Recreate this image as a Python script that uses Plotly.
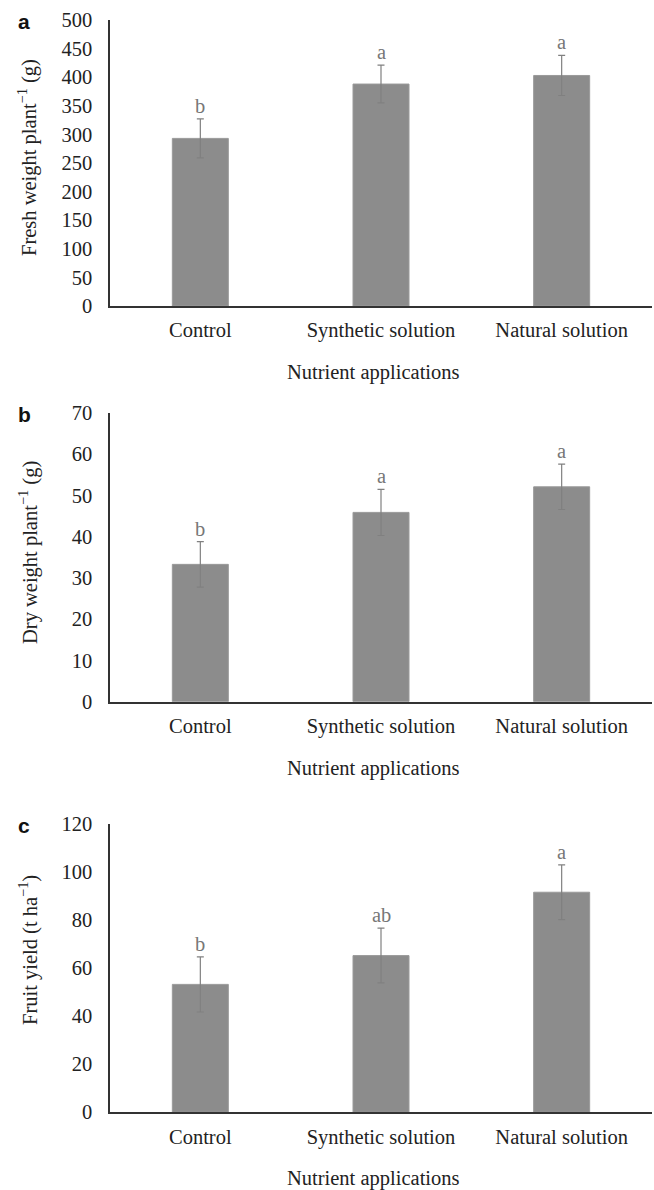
import plotly.graph_objects as go

categories = ["Control", "Synthetic solution", "Natural solution"]

fresh = [293, 388, 403]
fresh_err = [34, 33, 35]
fresh_letters = ["b", "a", "a"]

dry = [33.3, 45.9, 52.1]
dry_err = [5.5, 5.6, 5.5]
dry_letters = ["b", "a", "a"]

fruit = [53.3, 65.3, 91.7]
fruit_err = [11.5, 11.4, 11.4]
fruit_letters = ["b", "ab", "a"]

panels = [
    dict(vals=fresh, err=fresh_err, letters=fresh_letters, rng=[0, 500], dtick=50,
         ytitle="Fresh weight plant<sup>\u22121</sup> (g)", label="a",
         top=20, bottom=306, ytc=158, xtitle_y=372),
    dict(vals=dry, err=dry_err, letters=dry_letters, rng=[0, 70], dtick=10,
         ytitle="Dry weight plant<sup>\u22121</sup> (g)", label="b",
         top=413, bottom=701.7, ytc=553, xtitle_y=768),
    dict(vals=fruit, err=fruit_err, letters=fruit_letters, rng=[0, 120], dtick=20,
         ytitle="Fruit yield (t ha<sup>\u22121</sup>)", label="c",
         top=824.3, bottom=1112.3, ytc=950, xtitle_y=1178),
]

W, H = 654, 1190
SERIF = "Liberation Serif, Times New Roman, serif"
FS = 20.5
fig = go.Figure()
annotations = []
layout = {}
for i, p in enumerate(panels):
    n = "" if i == 0 else str(i + 1)
    xa, ya = "x" + n, "y" + n
    fig.add_trace(go.Bar(
        x=categories, y=p["vals"], xaxis=xa, yaxis=ya, width=0.31,
        marker=dict(color="#8c8c8c", line=dict(color="#9a9a9a", width=1)),
        error_y=dict(type="data", array=p["err"], color="#808080", thickness=1.2, width=3.5),
        showlegend=False, hoverinfo="skip",
    ))
    layout["xaxis" + n] = dict(
        domain=[110 / W, 652 / W], anchor=ya, range=[-0.5, 2.5], showline=True,
        linecolor="#333333", linewidth=1.5, showgrid=False, ticks="", ticklabelstandoff=5,
        tickfont=dict(family=SERIF, size=FS, color="#222222"), zeroline=False,
        automargin=False,
    )
    layout["yaxis" + n] = dict(
        domain=[1 - p["bottom"] / H, 1 - p["top"] / H], anchor=xa, range=p["rng"],
        dtick=p["dtick"], showline=True, linecolor="#333333", linewidth=1.5,
        showgrid=False, ticks="", ticklabelstandoff=12, zeroline=False,
        tickfont=dict(family=SERIF, size=FS, color="#222222"), automargin=False,
    )
    for c, v, e, l in zip(categories, p["vals"], p["err"], p["letters"]):
        annotations.append(dict(
            x=c, y=v + e, xref=xa, yref=ya, text=l, showarrow=False,
            yanchor="bottom", yshift=0,
            font=dict(family=SERIF, size=FS, color="#777777"),
        ))
    annotations.append(dict(
        x=28 / W, y=1 - p["ytc"] / H, xref="paper", yref="paper", text=p["ytitle"],
        textangle=-90, showarrow=False, xanchor="center", yanchor="middle",
        font=dict(family=SERIF, size=FS, color="#222222"),
    ))
    annotations.append(dict(
        x=373 / W, y=1 - p["xtitle_y"] / H, xref="paper", yref="paper",
        text="Nutrient applications", showarrow=False, xanchor="center", yanchor="middle",
        font=dict(family=SERIF, size=FS, color="#222222"),
    ))
    annotations.append(dict(
        x=24 / W, y=1 - (p["top"] + 1) / H, xref="paper", yref="paper",
        text="<b>" + p["label"] + "</b>", showarrow=False, xanchor="center", yanchor="middle",
        font=dict(family="Liberation Sans, Arial, sans-serif", size=21, color="#111111"),
    ))

fig.update_layout(
    width=W, height=H, margin=dict(l=0, r=0, t=0, b=0, pad=0, autoexpand=False),
    plot_bgcolor="white", paper_bgcolor="white",
    annotations=annotations, bargap=0.69, **layout,
)
fig.write_html("out.html", config={"displayModeBar": False})

with open("out.html", "r", encoding="utf-8") as f:
    html = f.read()
html = html.replace("<head>", "<head><style>html,body{margin:0;padding:0;overflow:hidden}</style>", 1)
with open("out.html", "w", encoding="utf-8") as f:
    f.write(html)
